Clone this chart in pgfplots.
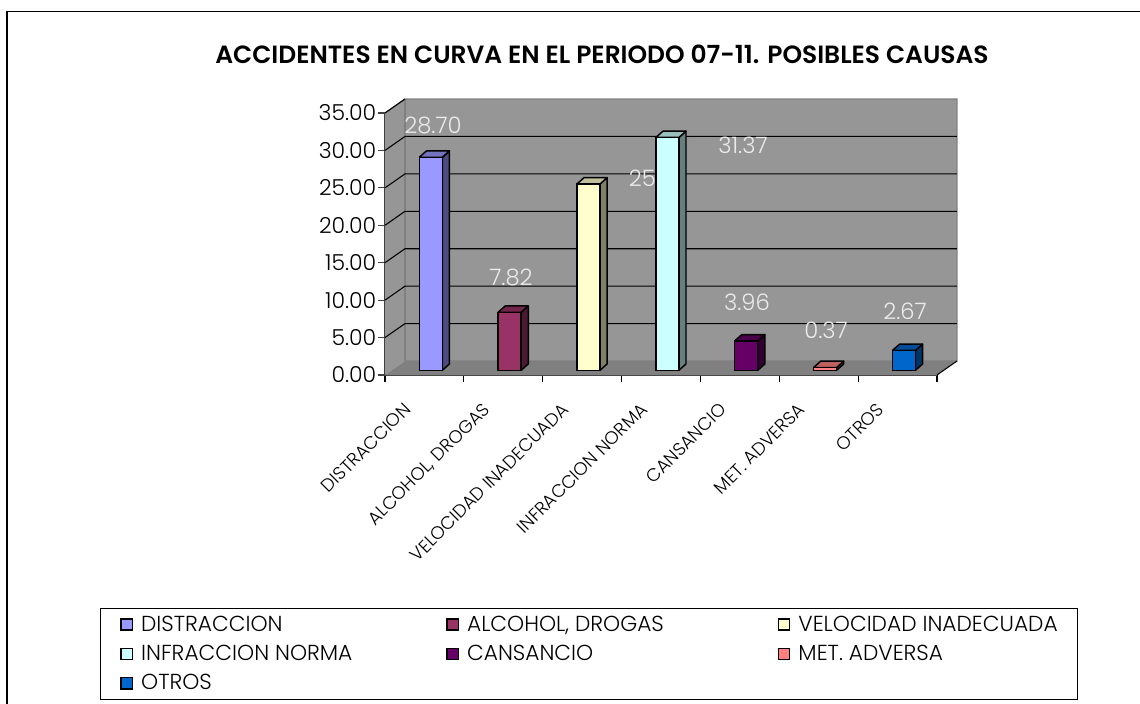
\documentclass[border=0pt]{standalone}
\usepackage{pgfplots}
\pgfplotsset{compat=1.18}
\usepackage{fontspec}
\setmainfont{Poppins Light}[BoldFont=Poppins SemiBold]
\definecolor{c1}{HTML}{9999FF}
\definecolor{c2}{HTML}{993366}
\definecolor{c3}{HTML}{FFFFCC}
\definecolor{c4}{HTML}{CCFFFF}
\definecolor{c5}{HTML}{660066}
\definecolor{c6}{HTML}{FF8080}
\definecolor{c7}{HTML}{0066CC}
\definecolor{wallc}{HTML}{969696}
\definecolor{floorc}{HTML}{808080}
\pgfplotsset{
  sq/.style={legend image code/.code={\draw[##1,line width=1.1pt,/tikz/.cd] (0pt,-4.2pt) rectangle (8.4pt,4.2pt);}},
  face/.style={fill=#1,draw=black,line width=1.1pt,line join=round,forget plot},
  barf/.style={ybar,bar shift=0pt,bar width=17.25pt,fill=#1,draw=black,line width=1.1pt,sq},
}
\newcommand{\ent}[2]{\addlegendentry{\makebox[#1][l]{\rule[-4pt]{0pt}{15pt}\hspace{3pt}#2}}}
\begin{document}
\begin{tikzpicture}[x=0.75pt,y=0.75pt]
\path[use as bounding box] (0,0) rectangle (1140,704);
\draw[black,line width=1.2pt] (7,0) -- (7,692.5) -- (1140,692.5);
\node[font=\bfseries\fontsize{18.7}{22}\selectfont] at (602,650) {ACCIDENTES EN CURVA EN EL PERIODO 07-11. POSIBLES CAUSAS};
\begin{axis}[
  at={(288.75pt,246.75pt)},anchor=south west,scale only axis,
  width=414pt,height=196.5pt,
  xmin=0,xmax=7,ymin=0,ymax=35,clip=false,
  axis x line*=bottom,axis y line*=left,
  axis line style={draw=black!75,line width=1.2pt,-},
  ytick={0,5,...,35},
  y tick label style={/pgf/number format/fixed,/pgf/number format/fixed zerofill,/pgf/number format/precision=2,/pgf/number format/assume math mode=true,font=\fontsize{16.5}{20}\selectfont,text=black,xshift=2pt},
  y tick style={draw=black!75,line width=.8pt},
  tick align=outside,major tick length=5pt,
  minor xtick={0,1,...,7},minor tick length=5pt,
  major x tick style={draw=none},
  minor x tick style={draw=black,line width=.8pt},
  xtick={0.5,1.5,...,6.5},
  xticklabels={DISTRACCION,{ALCOHOL, DROGAS},VELOCIDAD INADECUADA,INFRACCION NORMA,CANSANCIO,MET. ADVERSA,OTROS},
  xticklabel style={rotate=45,anchor=north east,font=\fontsize{13.5}{15}\selectfont,text=black,xshift=-22pt,yshift=1pt,inner sep=0pt},
]
\fill[wallc] (axis cs:0,0) -- (axis cs:0.2536,1.87) -- (axis cs:0.2536,36.87) -- (axis cs:0,35) -- cycle;
\fill[wallc] (axis cs:0.2536,1.87) -- (axis cs:7.2536,1.87) -- (axis cs:7.2536,36.87) -- (axis cs:0.2536,36.87) -- cycle;
\fill[floorc] (axis cs:0,0) -- (axis cs:7,0) -- (axis cs:7.2536,1.87) -- (axis cs:0.2536,1.87) -- cycle;
\draw[floorc,line width=1pt] (axis cs:0.2536,1.87) -- (axis cs:7.2536,1.87) -- (axis cs:7.2536,36.87) -- (axis cs:0.2536,36.87) -- (axis cs:0,35);
\draw[floorc,line width=1pt] (axis cs:0.2536,1.87) -- (axis cs:0.2536,36.87);
\draw[black,line width=.8pt] (axis cs:7,0) -- (axis cs:7.2536,1.87);
\pgfplotsinvokeforeach{5,10,15,20,25,30}{
  \draw[black,line width=.8pt] (axis cs:0,#1) -- (axis cs:0.2536,#1+1.87) -- (axis cs:7.2536,#1+1.87);
}
\draw[black,line width=.8pt] (axis cs:0,35) -- (axis cs:0.2536,36.87);
\end{axis}
\begin{scope}[every node/.style={text=white!92!black,font=\fontsize{17}{20}\selectfont}]
\node at (433,579) {28.70};
\node at (511,427) {7.82};
\node at (651,526) {25.11};
\node at (743,559) {31.37};
\node at (747,402) {3.96};
\node at (826,374) {0.37};
\node at (905,393) {2.67};
\end{scope}
\begin{axis}[
  at={(293.55pt,250.3pt)},anchor=south west,scale only axis,
  width=414pt,height=194.8pt,
  xmin=0,xmax=7,ymin=0,ymax=35,clip=false,axis lines=none,
  legend columns=3,
  legend cell align=left,
  legend style={at={(-0.528,-0.915)},anchor=north west,draw=black,line width=.8pt,
    font=\fontsize{16.3}{15}\selectfont,text=black,
    inner xsep=15pt,inner ysep=5.5pt,
    nodes={inner xsep=3pt,inner ysep=0pt},
    /tikz/row sep=9pt},
]
\addplot[face=c1!50!black] coordinates {(0.646,0) (0.736,0.85) (0.736,29.55) (0.646,28.70) (0.646,0)};
\addplot[face=c1!75!black] coordinates {(0.354,28.70) (0.646,28.70) (0.736,29.55) (0.444,29.55) (0.354,28.70)};
\addplot[barf=c1] coordinates {(0.5,28.70)}; \ent{229pt}{DISTRACCION}
\addplot[face=c2!50!black] coordinates {(1.646,0) (1.736,0.85) (1.736,8.67) (1.646,7.82) (1.646,0)};
\addplot[face=c2!75!black] coordinates {(1.354,7.82) (1.646,7.82) (1.736,8.67) (1.444,8.67) (1.354,7.82)};
\addplot[barf=c2] coordinates {(1.5,7.82)}; \ent{233pt}{ALCOHOL, DROGAS}
\addplot[face=c3!50!black] coordinates {(2.646,0) (2.736,0.85) (2.736,25.96) (2.646,25.11) (2.646,0)};
\addplot[face=c3!75!black] coordinates {(2.354,25.11) (2.646,25.11) (2.736,25.96) (2.444,25.96) (2.354,25.11)};
\addplot[barf=c3] coordinates {(2.5,25.11)}; \ent{194pt}{VELOCIDAD INADECUADA}
\addplot[face=c4!50!black] coordinates {(3.646,0) (3.736,0.85) (3.736,32.22) (3.646,31.37) (3.646,0)};
\addplot[face=c4!75!black] coordinates {(3.354,31.37) (3.646,31.37) (3.736,32.22) (3.444,32.22) (3.354,31.37)};
\addplot[barf=c4] coordinates {(3.5,31.37)}; \ent{229pt}{INFRACCION NORMA}
\addplot[face=c5!50!black] coordinates {(4.646,0) (4.736,0.85) (4.736,4.81) (4.646,3.96) (4.646,0)};
\addplot[face=c5!75!black] coordinates {(4.354,3.96) (4.646,3.96) (4.736,4.81) (4.444,4.81) (4.354,3.96)};
\addplot[barf=c5] coordinates {(4.5,3.96)}; \ent{233pt}{CANSANCIO}
\addplot[face=c6!50!black] coordinates {(5.646,0) (5.736,0.85) (5.736,1.22) (5.646,0.37) (5.646,0)};
\addplot[face=c6!75!black] coordinates {(5.354,0.37) (5.646,0.37) (5.736,1.22) (5.444,1.22) (5.354,0.37)};
\addplot[barf=c6] coordinates {(5.5,0.37)}; \ent{194pt}{MET. ADVERSA}
\addplot[face=c7!50!black] coordinates {(6.646,0) (6.736,0.85) (6.736,3.52) (6.646,2.67) (6.646,0)};
\addplot[face=c7!75!black] coordinates {(6.354,2.67) (6.646,2.67) (6.736,3.52) (6.444,3.52) (6.354,2.67)};
\addplot[barf=c7] coordinates {(6.5,2.67)}; \ent{229pt}{OTROS}
\end{axis}
\end{tikzpicture}
\end{document}
